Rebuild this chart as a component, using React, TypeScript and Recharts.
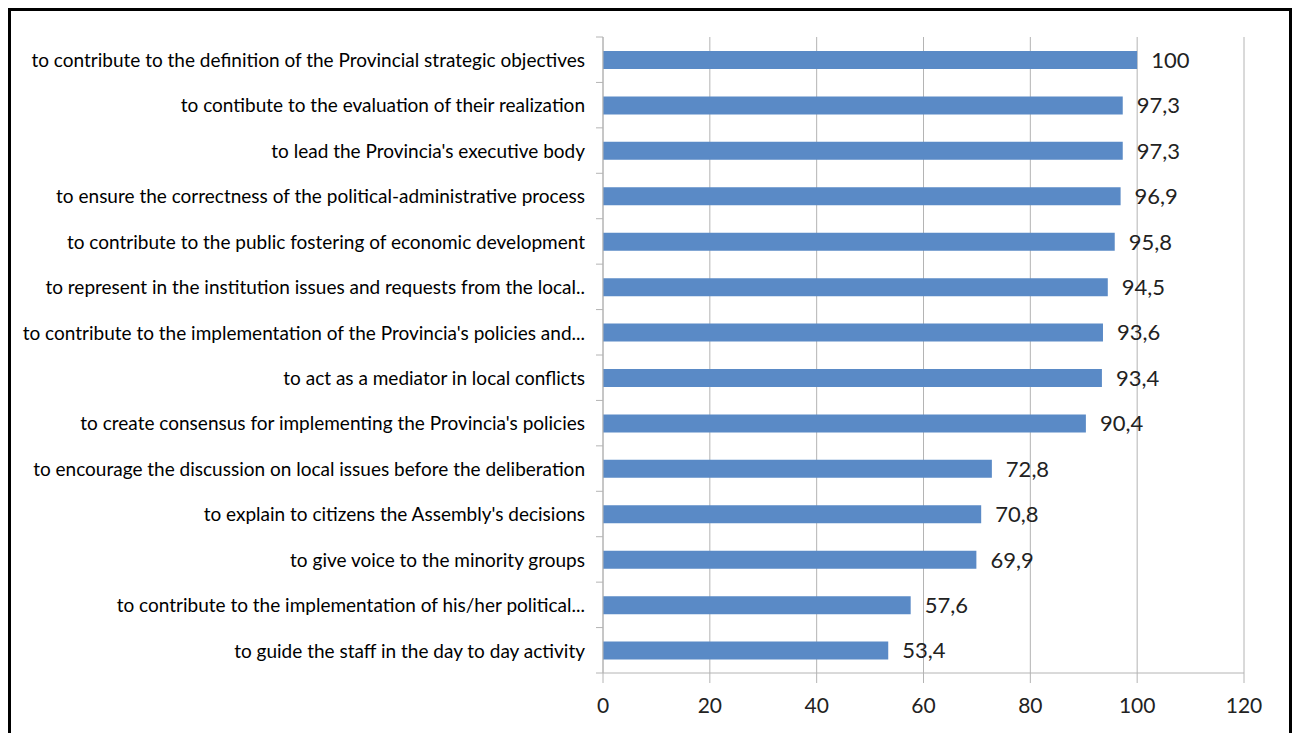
import { Bar, BarChart, CartesianGrid, LabelList, XAxis, YAxis } from "recharts"

const categories = [
  "to contribute to the definition of the Provincial strategic objectives",
  "to contibute to the evaluation of their realization",
  "to lead the Provincia's executive body",
  "to ensure the correctness of the political-administrative process",
  "to contribute to the public fostering of economic development",
  "to represent in the institution issues and requests from the local..",
  "to contribute to the implementation of the Provincia's policies and...",
  "to act as a mediator in local conflicts",
  "to create consensus for implementing the Provincia's policies",
  "to encourage the discussion on local issues before the deliberation",
  "to explain to citizens the Assembly's decisions",
  "to give voice to the minority groups",
  "to contribute to the implementation of his/her political...",
  "to guide the staff in the day to day activity",
]

const values = [100, 97.3, 97.3, 96.9, 95.8, 94.5, 93.6, 93.4, 90.4, 72.8, 70.8, 69.9, 57.6, 53.4]

const xTicks = [0, 20, 40, 60, 80, 100, 120]

const data = categories.map((name, i) => ({ name, value: values[i] }))

const WIDTH = 1298
const HEIGHT = 733
const TOP = 37
const BOTTOM = 673
const BAND = (BOTTOM - TOP) / categories.length
const GRID = "#b4b4b4"
const FONT = "Lato, sans-serif"

// excel puts the category ticks on the band edges, not the centres
function CategoryTick({ x, y, payload }: any) {
  return (
    <g>
      <line x1={x + 11} x2={x + 18} y1={y - BAND / 2} y2={y - BAND / 2} stroke={GRID} />
      {payload.index === categories.length - 1 && (
        <line x1={x + 11} x2={x + 18} y1={y + BAND / 2} y2={y + BAND / 2} stroke={GRID} />
      )}
      <text x={x} y={y} dy="0.38em" textAnchor="end" fill="#000" fontSize={19} fontFamily={FONT}>
        {payload.value}
      </text>
    </g>
  )
}

export default function App() {
  return (
    <>
      <style>{"body{margin:0;overflow:hidden;background:#fff}"}</style>
      <div
        style={{
          position: "absolute",
          left: 8,
          top: 8,
          width: 1278,
          height: 740,
          borderLeft: "3px solid #000",
          borderTop: "3px solid #000",
          borderRight: "3px solid #000",
        }}
      />
      <div style={{ position: "absolute", left: 0, top: 0 }}>
        <BarChart
          width={WIDTH}
          height={HEIGHT}
          data={data}
          layout="vertical"
          margin={{ top: TOP, right: WIDTH - 1244, bottom: 0, left: 0 }}
          barCategoryGap={(BAND - 18) / 2}
        >
          <CartesianGrid horizontal={false} stroke={GRID} />
          <XAxis
            type="number"
            domain={[0, 120]}
            ticks={xTicks}
            interval={0}
            height={HEIGHT - BOTTOM}
            stroke={GRID}
            tickSize={10}
            tickMargin={15}
            tick={{ fill: "#222", fontSize: 21, fontFamily: FONT }}
          />
          <YAxis
            type="category"
            dataKey="name"
            width={603}
            stroke={GRID}
            tickLine={false}
            tickMargin={12}
            interval={0}
            tick={<CategoryTick />}
          />
          <Bar dataKey="value" fill="#5a8ac6" barSize={18} isAnimationActive={false}>
            <LabelList
              dataKey="value"
              position="right"
              offset={14}
              formatter={(v: any) => String(v).replace(".", ",")}
              fill="#222"
              fontSize={22}
              fontFamily={FONT}
            />
          </Bar>
        </BarChart>
      </div>
    </>
  )
}
